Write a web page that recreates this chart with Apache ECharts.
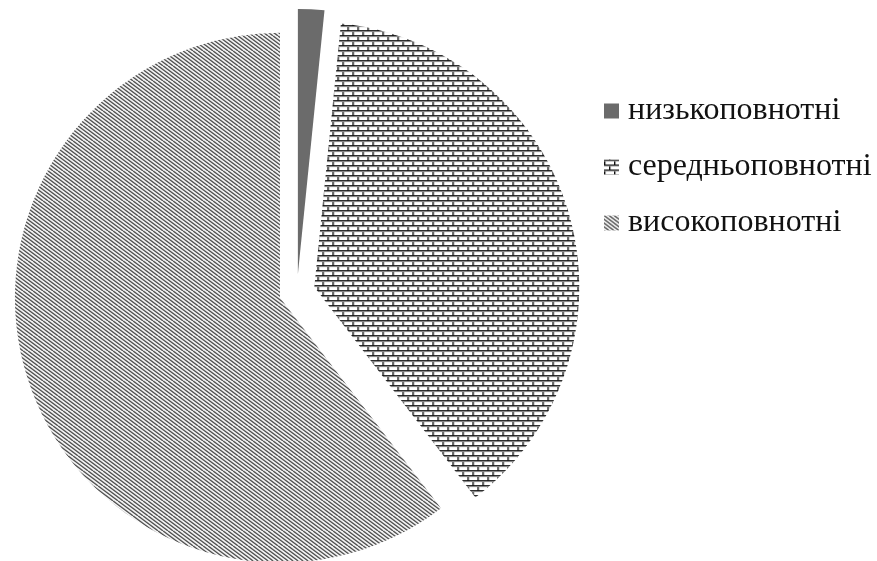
<!DOCTYPE html>
<html>
<head>
<meta charset="utf-8">
<script src="https://cdn.jsdelivr.net/npm/echarts@6/dist/echarts.min.js"></script>
<style>
  html, body { margin: 0; padding: 0; background: #fff; }
  #chart { width: 877px; height: 561px; }
</style>
</head>
<body>
<div id="chart"></div>
<script>
// Shares of stand density groups
const categories = ['низькоповнотні', 'середньоповнотні', 'високоповнотні'];
const shares = [1.6, 38.0, 60.4];

// Brick fill: offset rows of small rectangles
function brickPattern() {
  const c = document.createElement('canvas');
  c.width = 10; c.height = 10;
  const g = c.getContext('2d');
  g.fillStyle = '#fff';
  g.fillRect(0, 0, 10, 10);
  g.fillStyle = '#111';
  g.fillRect(0, 0, 10, 1);
  g.fillRect(0, 5, 10, 1);
  g.fillRect(0, 0, 1, 5);
  g.fillRect(5, 5, 1, 5);
  g.fillStyle = '#999';
  g.fillRect(0, 1, 10, 1);
  g.fillRect(0, 6, 10, 1);
  g.fillRect(1, 1, 1, 4);
  g.fillRect(6, 6, 1, 4);
  return c;
}

// Diagonal hatch running down to the right
function hatchPattern() {
  const w = 20, h = 15;
  const c = document.createElement('canvas');
  c.width = w; c.height = h;
  const g = c.getContext('2d');
  g.fillStyle = '#fff';
  g.fillRect(0, 0, w, h);
  g.strokeStyle = '#333';
  g.lineWidth = 1.25;
  for (let x0 = -40; x0 <= 40; x0 += 5) {
    g.beginPath();
    g.moveTo(x0, 0);
    g.lineTo(x0 + 20, 15);
    g.stroke();
  }
  return c;
}

const fills = [
  '#6b6b6b',
  { image: brickPattern(), repeat: 'repeat' },
  { image: hatchPattern(), repeat: 'repeat' }
];

const chart = echarts.init(document.getElementById('chart'), null, { renderer: 'canvas' });
chart.setOption({
  animation: false,
  backgroundColor: '#fff',
  legend: {
    orient: 'vertical',
    left: 604,
    top: 95,
    padding: 0,
    itemWidth: 15,
    itemHeight: 15,
    itemGap: 24,
    icon: 'rect',
    selectedMode: false,
    textStyle: {
      fontFamily: 'Liberation Serif, Times New Roman, serif',
      fontSize: 32,
      color: '#111',
      padding: [0, 0, 0, 4]
    },
    data: categories
  },
  series: [{
    type: 'pie',
    center: [297, 292],
    radius: 265,
    startAngle: 90,
    clockwise: true,
    selectedMode: 'multiple',
    selectedOffset: 18,
    label: { show: false },
    labelLine: { show: false },
    emphasis: { disabled: true },
    itemStyle: { borderWidth: 0 },
    data: categories.map((name, i) => ({
      name: name,
      value: shares[i],
      selected: true,
      itemStyle: { color: fills[i] }
    }))
  }]
});
</script>
</body>
</html>
